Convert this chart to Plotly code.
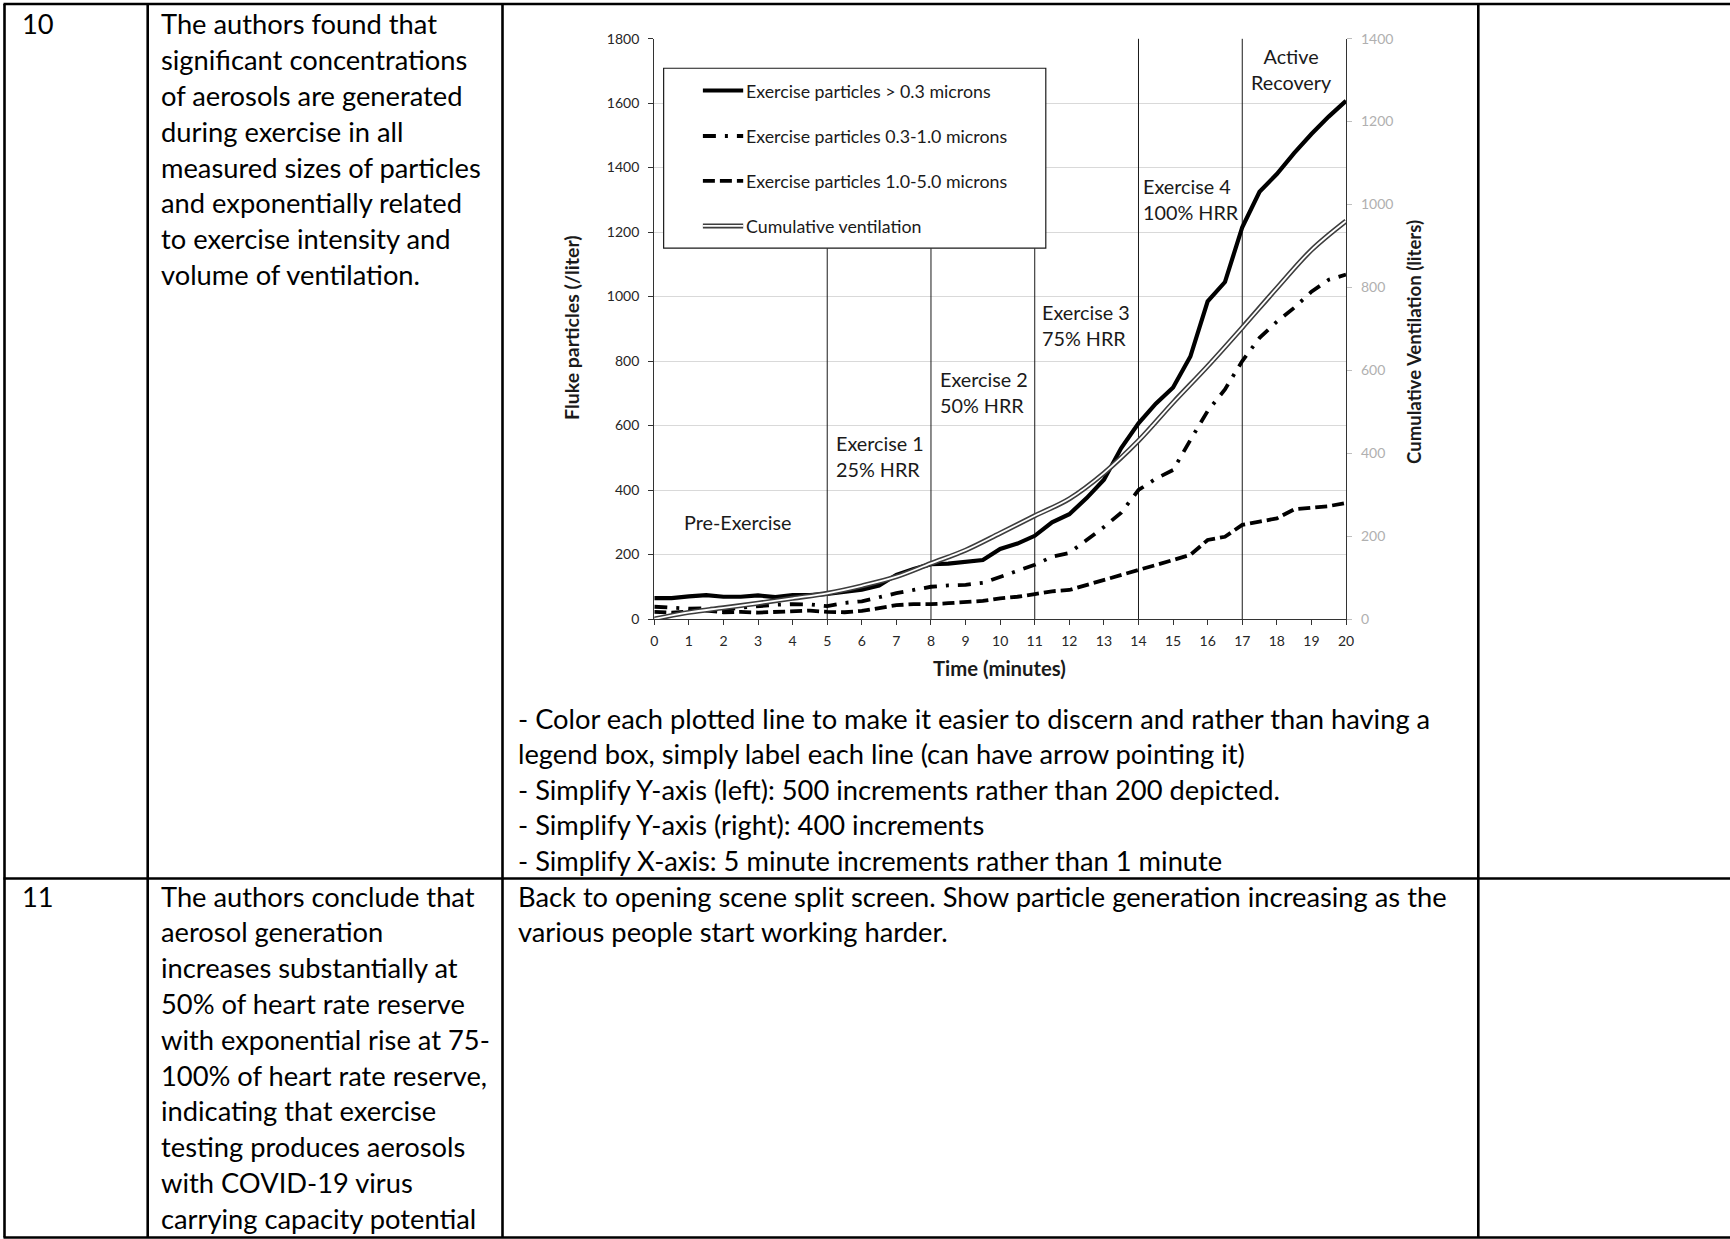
import plotly.graph_objects as go

W, H = 1730, 1239

# ---------------- data ----------------
time_min = [0, 0.5, 1, 1.5, 2, 2.5, 3, 3.5, 4, 4.5, 5, 5.5, 6, 6.5, 7, 7.5, 8, 8.5, 9, 9.5,
            10, 10.5, 11, 11.5, 12, 12.5, 13, 13.5, 14, 14.5, 15, 15.5, 16, 16.5, 17, 17.5,
            18, 18.5, 19, 19.5, 20]
particles_gt03 = [65, 65, 70, 74, 69, 69, 73, 68, 74, 74, 78, 84, 91, 104, 137, 155, 170, 172,
                  178, 183, 217, 234, 258, 300, 325, 375, 432, 530, 607, 668, 718, 814, 985,
                  1045, 1215, 1325, 1380, 1445, 1504, 1558, 1607]
particles_03_10 = [38, 36, 32, 33, 28, 35, 40, 44, 46, 45, 40, 50, 55, 68, 80, 90, 100, 104,
                   106, 112, 130, 148, 168, 193, 205, 245, 285, 330, 400, 435, 462, 555, 645,
                   712, 800, 872, 922, 965, 1015, 1052, 1068]
particles_10_50 = [22, 20, 23, 26, 21, 22, 20, 22, 23, 26, 22, 21, 25, 33, 43, 46, 46, 49, 52,
                   56, 64, 69, 77, 86, 90, 105, 121, 136, 152, 167, 183, 199, 245, 255, 292,
                   302, 312, 340, 345, 350, 360]
vent_time = [0, 1, 2, 3, 4, 5, 6, 7, 8, 9, 10, 11, 12, 13, 14, 15, 16, 17, 18, 19, 20]
cum_ventilation = [0, 16, 27, 38, 50, 62, 80, 102, 134, 166, 207, 249, 290, 352, 430, 522,
                   610, 703, 798, 890, 960]

series_names = ["Exercise particles > 0.3 microns", "Exercise particles 0.3-1.0 microns",
                "Exercise particles 1.0-5.0 microns", "Cumulative ventilation"]
phase_bounds = [5, 8, 11, 14, 17]
phase_labels = ["Pre-Exercise", "Exercise 1<br>25% HRR", "Exercise 2<br>50% HRR",
                "Exercise 3<br>75% HRR", "Exercise 4<br>100% HRR", "Active<br>Recovery"]
x_ticks = list(range(0, 21))
y_left_ticks = list(range(0, 1801, 200))
y_right_ticks = list(range(0, 1401, 200))

row10_num = "10"
row10_summary = ["The authors found that", "significant concentrations",
                 "of aerosols are generated", "during exercise in all",
                 "measured sizes of particles", "and exponentially related",
                 "to exercise intensity and", "volume of ventilation."]
row10_notes = ["- Color each plotted line to make it easier to discern and rather than having a",
               "legend box, simply label each line (can have arrow pointing it)",
               "- Simplify Y-axis (left): 500 increments rather than 200 depicted.",
               "- Simplify Y-axis (right): 400 increments",
               "- Simplify X-axis: 5 minute increments rather than 1 minute"]
row11_num = "11"
row11_summary = ["The authors conclude that", "aerosol generation",
                 "increases substantially at", "50% of heart rate reserve",
                 "with exponential rise at 75-", "100% of heart rate reserve,",
                 "indicating that exercise", "testing produces aerosols",
                 "with COVID-19 virus", "carrying capacity potential"]
row11_notes = ["Back to opening scene split screen. Show particle generation increasing as the",
               "various people start working harder."]

# ---------------- layout geometry (pixels) ----------------
PLOT_L, PLOT_R, PLOT_T, PLOT_B = 654.3, 1346.0, 38.6, 619.0


def px(x):
    return x / W


def py(y):
    return 1 - y / H


FONT = "Lato, 'Open Sans', sans-serif"
LINE_W = 3.8
DASHDOT = "13px,9px,3px,9px"
DASHED = "12px,5px"

fig = go.Figure()

# cumulative ventilation: double line (dark outer, white inner)
fig.add_trace(go.Scatter(x=vent_time, y=cum_ventilation, yaxis="y2", mode="lines",
                         line=dict(color="#3d3d3d", width=5.0, shape="spline"),
                         hoverinfo="skip", showlegend=False))
fig.add_trace(go.Scatter(x=vent_time, y=cum_ventilation, yaxis="y2", mode="lines",
                         name=series_names[3],
                         line=dict(color="white", width=1.8, shape="spline"),
                         showlegend=False))
fig.add_trace(go.Scatter(x=time_min, y=particles_10_50, mode="lines", name=series_names[2],
                         line=dict(color="black", width=LINE_W, dash=DASHED),
                         showlegend=False))
fig.add_trace(go.Scatter(x=time_min, y=particles_03_10, mode="lines", name=series_names[1],
                         line=dict(color="black", width=LINE_W, dash=DASHDOT),
                         showlegend=False))
fig.add_trace(go.Scatter(x=time_min, y=particles_gt03, mode="lines", name=series_names[0],
                         line=dict(color="black", width=LINE_W + 0.4),
                         showlegend=False))

shapes = []
ann = []

# legend box geometry (data units)
LEG_X0, LEG_X1, LEG_Y0, LEG_Y1 = 0.27, 11.32, 1150, 1708

# phase boundary lines (first three stop under the legend box)
for b in phase_bounds:
    top = LEG_Y0 if b < LEG_X1 else 1800
    shapes.append(dict(type="line", xref="x", yref="y", x0=b, x1=b, y0=0, y1=top,
                       line=dict(color="#1a1a1a", width=1), layer="between"))

shapes.append(dict(type="rect", xref="x", yref="y", x0=LEG_X0, x1=LEG_X1, y0=LEG_Y0, y1=LEG_Y1,
                   fillcolor="white", line=dict(color="#1a1a1a", width=1.2), layer="above"))
leg_rows = [1639, 1498, 1359, 1219]
sx0, sx1 = 1.405, 2.57
shapes.append(dict(type="line", xref="x", yref="y", x0=sx0, x1=sx1, y0=leg_rows[0], y1=leg_rows[0],
                   line=dict(color="black", width=LINE_W + 0.4), layer="above"))
shapes.append(dict(type="line", xref="x", yref="y", x0=sx0, x1=sx1, y0=leg_rows[1], y1=leg_rows[1],
                   line=dict(color="black", width=LINE_W, dash=DASHDOT), layer="above"))
shapes.append(dict(type="line", xref="x", yref="y", x0=sx0, x1=sx1, y0=leg_rows[2], y1=leg_rows[2],
                   line=dict(color="black", width=LINE_W, dash=DASHED), layer="above"))
shapes.append(dict(type="line", xref="x", yref="y", x0=sx0, x1=sx1, y0=leg_rows[3], y1=leg_rows[3],
                   line=dict(color="#3d3d3d", width=5.0), layer="above"))
shapes.append(dict(type="line", xref="x", yref="y", x0=sx0, x1=sx1, y0=leg_rows[3], y1=leg_rows[3],
                   line=dict(color="white", width=1.8), layer="above"))
for name, yy in zip(series_names, leg_rows):
    ann.append(dict(x=sx1 + 0.02, y=yy, xref="x", yref="y", text=name, showarrow=False,
                    xanchor="left", yanchor="middle",
                    font=dict(family=FONT, size=17.8, color="#1a1a1a")))

# phase labels
label_pos = [(2.42, 301, "center"), (5.2, 506, "left"), (8.2, 705, "left"),
             (11.15, 912, "left"), (14.08, 1304, "left"), (18.42, 1706, "center")]
for (lx, ly, al), txt in zip(label_pos, phase_labels):
    ann.append(dict(x=lx, y=ly, xref="x", yref="y", text=txt, showarrow=False,
                    xanchor=al, yanchor="middle", align=al,
                    font=dict(family=FONT, size=19.8, color="#1a1a1a")))

# axis titles
ann.append(dict(x=px(571), y=py(328), xref="paper", yref="paper",
                text="<b>Fluke particles (/liter)</b>", textangle=-90, showarrow=False,
                xanchor="center", yanchor="middle",
                font=dict(family=FONT, size=19.5, color="#1a1a1a")))
ann.append(dict(x=px(1414), y=py(342), xref="paper", yref="paper",
                text="<b>Cumulative Ventilation (liters)</b>", textangle=-90, showarrow=False,
                xanchor="center", yanchor="middle",
                font=dict(family=FONT, size=18.6, color="#1a1a1a")))
ann.append(dict(x=px(999), y=py(668), xref="paper", yref="paper",
                text="<b>Time (minutes)</b>", showarrow=False,
                xanchor="center", yanchor="middle",
                font=dict(family=FONT, size=20.3, color="#1a1a1a")))

# ---------------- table ----------------
TL = 2.6
TX_L, TX_R = 4.5, W
C1, C2, C3 = 147.7, 502.5, 1478.3
TY_T, TY_SEP, TY_B = 4.0, 878.5, 1237.5


def hline(y, x0, x1):
    shapes.append(dict(type="line", xref="paper", yref="paper", x0=px(x0), x1=px(x1),
                       y0=py(y), y1=py(y), line=dict(color="black", width=TL), layer="above"))


def vline(x, y0, y1):
    shapes.append(dict(type="line", xref="paper", yref="paper", x0=px(x), x1=px(x),
                       y0=py(y0), y1=py(y1), line=dict(color="black", width=TL), layer="above"))


hline(TY_T, TX_L - 1, TX_R)
hline(TY_SEP, TX_L - 1, TX_R)
hline(TY_B, TX_L - 1, TX_R)
vline(TX_L, TY_T, TY_B)
vline(C1, TY_T, TY_B)
vline(C2, TY_T, TY_B)
vline(C3, TY_T, TY_B)

TFONT = dict(family=FONT, size=27.3, color="black")
LINE_H = 35.8


def text_block(lines, x, y_first, step=LINE_H):
    for i, t in enumerate(lines):
        ann.append(dict(x=px(x), y=py(y_first + i * step), xref="paper", yref="paper",
                        text=t, showarrow=False, xanchor="left", yanchor="middle",
                        font=TFONT))


text_block([row10_num], 20, 24)
text_block(row10_summary, 159, 24)
text_block(row10_notes, 515.5, 718, 35.6)
text_block([row11_num], 20, 896)
text_block(row11_summary, 159, 896)
text_block(row11_notes, 515.5, 896)

fig.update_layout(
    width=W, height=H, autosize=False,
    margin=dict(l=0, r=0, t=0, b=0, pad=0),
    paper_bgcolor="white", plot_bgcolor="white",
    showlegend=False,
    shapes=shapes, annotations=ann,
    xaxis=dict(domain=[px(PLOT_L), px(PLOT_R)], range=[0, 20], tickvals=x_ticks,
               automargin=False,
               showgrid=False, zeroline=False, showline=True, linecolor="#333333", linewidth=1.3,
               ticks="outside", ticklen=5, tickcolor="#333333", ticklabelstandoff=4,
               tickfont=dict(family=FONT, size=14, color="#262626")),
    yaxis=dict(domain=[py(PLOT_B), py(PLOT_T)], range=[0, 1800], tickvals=y_left_ticks,
               automargin=False,
               showgrid=True, gridcolor="#d9d9d9", gridwidth=1.2, zeroline=False,
               showline=True, linecolor="#333333", linewidth=1.3,
               ticks="outside", ticklen=5, tickcolor="#333333", ticklabelstandoff=6,
               tickfont=dict(family=FONT, size=14, color="#262626")),
    yaxis2=dict(overlaying="y", side="right", range=[0, 1400], tickvals=y_right_ticks,
                automargin=False,
                showgrid=False, zeroline=False, showline=True, linecolor="#333333", linewidth=1.2,
                ticks="outside", ticklen=5, tickcolor="#bfbfbf", ticklabelstandoff=6,
                tickfont=dict(family=FONT, size=14, color="#b0b0b0")),
)

fig.write_html("out.html", config={"displayModeBar": False, "responsive": False},
               post_script="document.body.style.margin='0px';document.body.style.overflow='hidden';")
